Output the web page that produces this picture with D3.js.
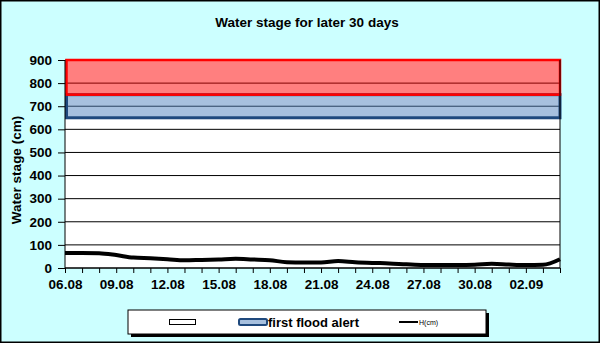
<!DOCTYPE html>
<html>
<head>
<meta charset="utf-8">
<script src="https://cdn.jsdelivr.net/npm/d3@7/dist/d3.min.js"></script>
<style>
  html, body { margin: 0; padding: 0; background: #fff; }
  svg { display: block; font-family: "Liberation Sans", Arial, sans-serif; }
</style>
</head>
<body>
<svg id="chart" width="600" height="343"></svg>
<script>
// Daily dates (dd.mm) from 06.08 to 04.09
const dates = ["06.08","07.08","08.08","09.08","10.08","11.08","12.08","13.08","14.08","15.08",
               "16.08","17.08","18.08","19.08","20.08","21.08","22.08","23.08","24.08","25.08",
               "26.08","27.08","28.08","29.08","30.08","31.08","01.09","02.09","03.09","04.09"];
// Measured water stage H (cm)
const stage = [65,65,64,56,45,42,38,33,35,37,40,37,34,25,24,24,30,25,22,20,16,13,13,13,14,18,15,13,14,38];
// Alert bands (cm)
const firstAlert = [650, 750];
const upperBand = [750, 900];
const yTicks = [0,100,200,300,400,500,600,700,800,900];
const labelEvery = 3;

const svg = d3.select("#chart");
const W = 600, H = 343;
const plot = { left: 65, right: 560, top: 60, bottom: 268 };
const font = "'Liberation Sans', Arial, sans-serif";

// Background and outer frame
svg.append("rect").attr("x", 0).attr("y", 0).attr("width", W).attr("height", H).attr("fill", "#CCFFFF");
svg.append("rect").attr("x", 0.75).attr("y", 0.75).attr("width", W - 1.5).attr("height", H - 1.5)
  .attr("fill", "none").attr("stroke", "#000").attr("stroke-width", 1.5);

const x = d3.scalePoint().domain(dates).range([plot.left, plot.right]);
const y = d3.scaleLinear().domain([0, 900]).range([plot.bottom, plot.top]);

// Plot area
svg.append("rect").attr("x", plot.left).attr("y", plot.top)
  .attr("width", plot.right - plot.left).attr("height", plot.bottom - plot.top)
  .attr("fill", "#fff");

// Horizontal gridlines
svg.append("g").selectAll("line").data(yTicks.filter(d => d > 0)).join("line")
  .attr("x1", plot.left).attr("x2", plot.right)
  .attr("y1", d => y(d)).attr("y2", d => y(d))
  .attr("stroke", "#000").attr("stroke-width", 1);

// Alert bands, semi transparent over the gridlines
svg.append("rect")
  .attr("x", plot.left).attr("width", plot.right - plot.left)
  .attr("y", y(firstAlert[1])).attr("height", y(firstAlert[0]) - y(firstAlert[1]))
  .attr("fill", "#4F81BD").attr("fill-opacity", 0.5);
svg.append("rect")
  .attr("x", plot.left + 1.5).attr("width", plot.right - plot.left - 1.5)
  .attr("y", y(firstAlert[1])).attr("height", y(firstAlert[0]) - y(firstAlert[1]))
  .attr("fill", "none").attr("stroke", "#1F497D").attr("stroke-width", 3);
svg.append("rect")
  .attr("x", plot.left).attr("width", plot.right - plot.left)
  .attr("y", y(upperBand[1])).attr("height", y(upperBand[0]) - y(upperBand[1]))
  .attr("fill", "#FF0000").attr("fill-opacity", 0.5);
svg.append("rect")
  .attr("x", plot.left + 1.5).attr("width", plot.right - plot.left - 1.5)
  .attr("y", y(upperBand[1])).attr("height", y(upperBand[0]) - y(upperBand[1]))
  .attr("fill", "none").attr("stroke", "#FF0000").attr("stroke-width", 2.5);

// Plot area frame (right and bottom sides)
svg.append("path")
  .attr("d", `M${plot.right},${plot.top}V${plot.bottom}H${plot.left}`)
  .attr("fill", "none").attr("stroke", "#000").attr("stroke-width", 1);

// Water stage line
const line = d3.line().x((d, i) => x(dates[i])).y(d => y(d)).curve(d3.curveMonotoneX);
svg.append("path").datum(stage).attr("d", line)
  .attr("fill", "none").attr("stroke", "#000").attr("stroke-width", 4)
  .attr("stroke-linejoin", "round");

// Y axis
const yAxis = d3.axisLeft(y).tickValues(yTicks).tickSize(7).tickPadding(6);
const gy = svg.append("g").attr("transform", `translate(${plot.left},0)`).call(yAxis);
gy.select(".domain").attr("stroke", "#000").attr("stroke-width", 1).attr("d", `M0,${plot.top}V${plot.bottom}`);
gy.selectAll(".tick line").attr("stroke", "#000");
gy.selectAll(".tick text").attr("font-size", 13.5).attr("font-weight", "bold").attr("fill", "#000")
  .attr("font-family", font);

// X axis: a tick every day, a label every third day
const xAxis = d3.axisBottom(x).tickSize(5).tickPadding(6)
  .tickFormat((d, i) => i % labelEvery === 0 ? d : "");
const gx = svg.append("g").attr("transform", `translate(0,${plot.bottom})`).call(xAxis);
gx.select(".domain").attr("stroke", "#000").attr("d", `M${plot.left},0H${plot.right}`);
gx.selectAll(".tick line").attr("stroke", "#000");
gx.selectAll(".tick text").attr("font-size", 13.5).attr("font-weight", "bold").attr("fill", "#000")
  .attr("font-family", font);

// Title
svg.append("text").attr("x", 307).attr("y", 27).attr("text-anchor", "middle")
  .attr("font-size", 13.5).attr("font-weight", "bold").text("Water stage for later 30 days");

// Y axis title
svg.append("text").attr("transform", `translate(20.5,170) rotate(-90)`).attr("text-anchor", "middle")
  .attr("font-size", 13.5).attr("font-weight", "bold").text("Water stage (cm)");

// Legend
const lg = { x: 128, y: 310, w: 358, h: 24 };
svg.append("rect").attr("x", lg.x + 3).attr("y", lg.y + 3).attr("width", lg.w).attr("height", lg.h).attr("fill", "#000");
svg.append("rect").attr("x", lg.x).attr("y", lg.y).attr("width", lg.w).attr("height", lg.h)
  .attr("fill", "#fff").attr("stroke", "#000").attr("stroke-width", 1);
const cy = lg.y + lg.h / 2;
svg.append("rect").attr("x", 169.5).attr("y", cy - 2.5).attr("width", 26).attr("height", 5)
  .attr("fill", "#fff").attr("stroke", "#000").attr("stroke-width", 1);
svg.append("rect").attr("x", 239).attr("y", cy - 3).attr("width", 28).attr("height", 6).attr("rx", 1.5)
  .attr("fill", "#A7C0DE").attr("stroke", "#1F497D").attr("stroke-width", 2);
svg.append("text").attr("x", 268).attr("y", cy + 4.5).attr("font-size", 13).attr("font-weight", "bold")
  .text("first flood alert");
svg.append("line").attr("x1", 399).attr("x2", 418).attr("y1", cy).attr("y2", cy)
  .attr("stroke", "#000").attr("stroke-width", 2);
svg.append("text").attr("x", 419).attr("y", cy + 2.5).attr("font-size", 7).text("H(cm)");
</script>
</body>
</html>
